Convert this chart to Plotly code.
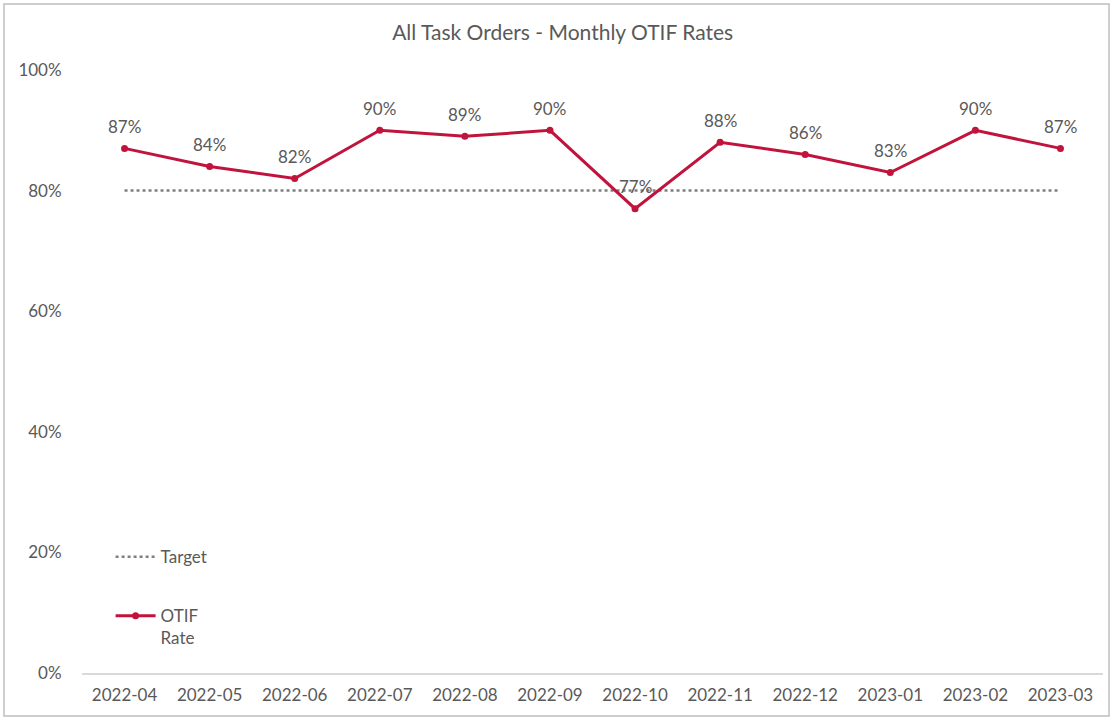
import plotly.graph_objects as go

months = ["2022-04", "2022-05", "2022-06", "2022-07", "2022-08", "2022-09",
          "2022-10", "2022-11", "2022-12", "2023-01", "2023-02", "2023-03"]
otif_rate = [0.87, 0.84, 0.82, 0.90, 0.89, 0.90, 0.77, 0.88, 0.86, 0.83, 0.90, 0.87]
target = [0.80] * len(months)

font_name = "Lato"
grey = "#595959"
red = "#C0143C"

fig = go.Figure()

# target line (dotted)
fig.add_trace(go.Scatter(
    x=months, y=target, name="Target", mode="lines",
    line=dict(color="#7F7F7F", width=2.5, dash="dot"),
    legend="legend",
))

# monthly OTIF rate
fig.add_trace(go.Scatter(
    x=months, y=otif_rate, name="OTIF<br>Rate", mode="lines+markers",
    line=dict(color=red, width=3),
    marker=dict(color=red, size=7),
    legend="legend2",
))

# data labels sit a bit higher above the points than plotly's textposition
for m, v in zip(months, otif_rate):
    fig.add_annotation(x=m, y=v, text=f"{v:.0%}", showarrow=False,
                       yshift=22, font=dict(family=font_name, size=17, color=grey))

fig.update_layout(
    width=1112, height=719,
    paper_bgcolor="white", plot_bgcolor="white",
    margin=dict(l=82, r=9, t=70, b=46, autoexpand=False),
    font=dict(family=font_name, size=17, color=grey),
    title=dict(text="All Task Orders - Monthly OTIF Rates", x=0.506, xanchor="center",
               y=0.954, yanchor="middle", font=dict(size=21, color=grey)),
    showlegend=True,
    legend=dict(x=0.028, y=0.222, xanchor="left", yanchor="top", itemwidth=40,
                bgcolor="rgba(0,0,0,0)", font=dict(size=17, color=grey)),
    legend2=dict(x=0.028, y=0.124, xanchor="left", yanchor="top", valign="top",
                 itemwidth=40, bgcolor="rgba(0,0,0,0)", font=dict(size=17, color=grey)),
    shapes=[dict(type="rect", xref="paper", yref="paper",
                 x0=-0.0764, x1=1.0059, y0=-0.0713, y1=1.1095,
                 line=dict(color="#BFBFBF", width=1.5), layer="below")],
)

fig.update_xaxes(
    type="category", showgrid=False, zeroline=False,
    showline=True, linecolor="#D9D9D9", linewidth=1.5,
    ticks="outside", ticklen=6, tickcolor="rgba(0,0,0,0)",
    tickfont=dict(size=17, color=grey),
    range=[-0.5, 11.5],
)
fig.update_yaxes(
    range=[0, 1], tickvals=[0, 0.2, 0.4, 0.6, 0.8, 1.0], tickformat=".0%",
    showgrid=False, zeroline=False, showline=False,
    ticks="outside", ticklen=16, tickcolor="rgba(0,0,0,0)",
    tickfont=dict(size=17, color=grey),
)

fig.write_html("out.html", config={"displayModeBar": False},
               post_script="document.body.style.margin='0px';")
